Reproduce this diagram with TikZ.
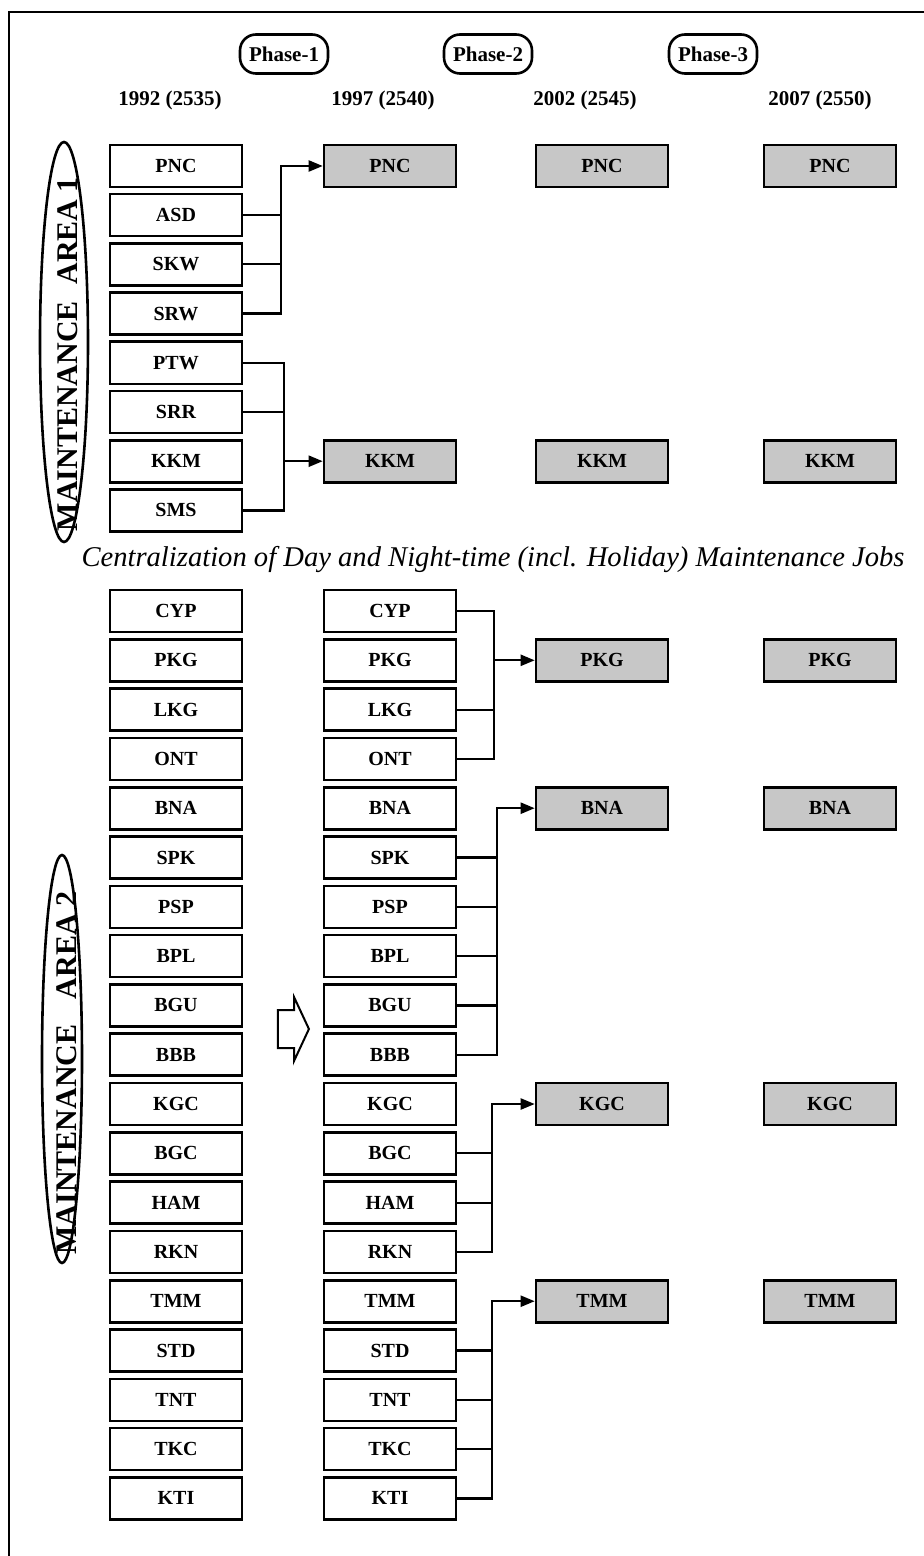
\documentclass[tikz,border=0pt]{standalone}
\usepackage{fontspec}
\setmainfont{Liberation Serif}
\usetikzlibrary{arrows.meta,shapes.geometric,shapes.arrows}

\begin{document}
\begin{tikzpicture}[x=0.5pt,y=-0.5pt,
  stn/.style={draw,line width=1.3pt,minimum width=66pt,minimum height=21pt,inner sep=0pt,font=\bfseries\fontsize{10}{12}\selectfont},
  hub/.style={stn,fill=black!22},
  phasebox/.style={draw,line width=1.3pt,rounded corners=8pt,minimum width=44pt,minimum height=19.5pt,inner sep=2pt,font=\bfseries\fontsize{10.5}{12}\selectfont},
  yearlab/.style={font=\bfseries\fontsize{10.5}{12}\selectfont},
  ring/.style={draw,ellipse,line width=1.3pt,inner sep=0pt},
  arealab/.style={rotate=90,font=\bfseries\fontsize{15}{18}\selectfont},
  feed/.style={line width=1.1pt},
  arr/.style={feed,-{Triangle[length=7pt,width=5.5pt]}}]
\useasboundingbox (0,0) rectangle (924,1556);
\draw[line width=1.4pt] (924,12) -- (9,12) -- (9,1556);
\foreach \i/\x in {1/284,2/488,3/713}{\node[phasebox] (ph\i) at (\x,54) {Phase-\i};}
\foreach \i/\x/\lab in {0/170/1992 (2535),1/383/1997 (2540),2/585/2002 (2545),3/820/2007 (2550)}{\node[yearlab] (yr\i) at (\x,100) {\lab};}
\node[ring,minimum width=24pt,minimum height=200pt] (ring1) at (64,342) {};
\node[arealab] (area1) at (68,354) {MAINTENANCE\hspace{0.3em} AREA 1};
\foreach \i/\lab in {0/PNC,1/ASD,2/SKW,3/SRW,4/PTW,5/SRR,6/KKM,7/SMS}{\node[stn] (y92-\lab) at (176,166+\i*49.2) {\lab};}
\foreach \i/\lab in {0/PNC,6/KKM}{\node[hub] (y97-\lab) at (390,166+\i*49.2) {\lab};\node[hub] (y02-\lab) at (602,166+\i*49.2) {\lab};\node[hub] (y07-\lab) at (830,166+\i*49.2) {\lab};}
\draw[arr] (y92-SRW.east) -- ++(38,0) |- (y97-PNC.west);
\foreach \lab in {ASD,SKW}{\draw[feed] (y92-\lab.east) -- ++(38,0);}
\draw[feed] (y92-PTW.east) -- ++(41,0) |- (y92-SMS.east);
\draw[feed] (y92-SRR.east) -- ++(41,0);
\draw[arr] (y92-KKM.east) ++(41,0) -- (y97-KKM.west);
\node[font=\itshape\fontsize{14.3}{17}\selectfont] (note) at (493,560) {Centralization of Day and Night-time (incl. Holiday) Maintenance Jobs};
\node[ring,minimum width=20pt,minimum height=204pt] (ring2) at (62,1059) {};
\node[arealab] (area2) at (67,1073) {MAINTENANCE\hspace{0.6em} AREA 2};
\foreach \i/\lab in {0/CYP,1/PKG,2/LKG,3/ONT,4/BNA,5/SPK,6/PSP,7/BPL,8/BGU,9/BBB,10/KGC,11/BGC,12/HAM,13/RKN,14/TMM,15/STD,16/TNT,17/TKC,18/KTI}{\node[stn] (y92-\lab) at (176,611+\i*49.3) {\lab};\node[stn] (y97-\lab) at (390,611+\i*49.3) {\lab};}
\foreach \i/\lab in {1/PKG,4/BNA,10/KGC,14/TMM}{\node[hub] (y02-\lab) at (602,611+\i*49.3) {\lab};\node[hub] (y07-\lab) at (830,611+\i*49.3) {\lab};}
\node[single arrow,draw,line width=1pt,minimum height=15.5pt,single arrow head extend=6.5pt,single arrow tip angle=130,inner xsep=0pt,inner ysep=9pt] (shift) at (289,1029) {};
\draw[feed] (y97-CYP.east) -- ++(37,0) |- (y97-ONT.east);
\draw[feed] (y97-LKG.east) -- ++(37,0);
\draw[arr] (y97-PKG.east) ++(37,0) -- (y02-PKG.west);
\draw[arr] (y97-BBB.east) -- ++(40,0) |- (y02-BNA.west);
\foreach \lab in {SPK,PSP,BPL,BGU}{\draw[feed] (y97-\lab.east) -- ++(40,0);}
\draw[arr] (y97-RKN.east) -- ++(35,0) |- (y02-KGC.west);
\foreach \lab in {BGC,HAM}{\draw[feed] (y97-\lab.east) -- ++(35,0);}
\draw[arr] (y97-KTI.east) -- ++(35,0) |- (y02-TMM.west);
\foreach \lab in {STD,TNT,TKC}{\draw[feed] (y97-\lab.east) -- ++(35,0);}
\end{tikzpicture}
\end{document}
